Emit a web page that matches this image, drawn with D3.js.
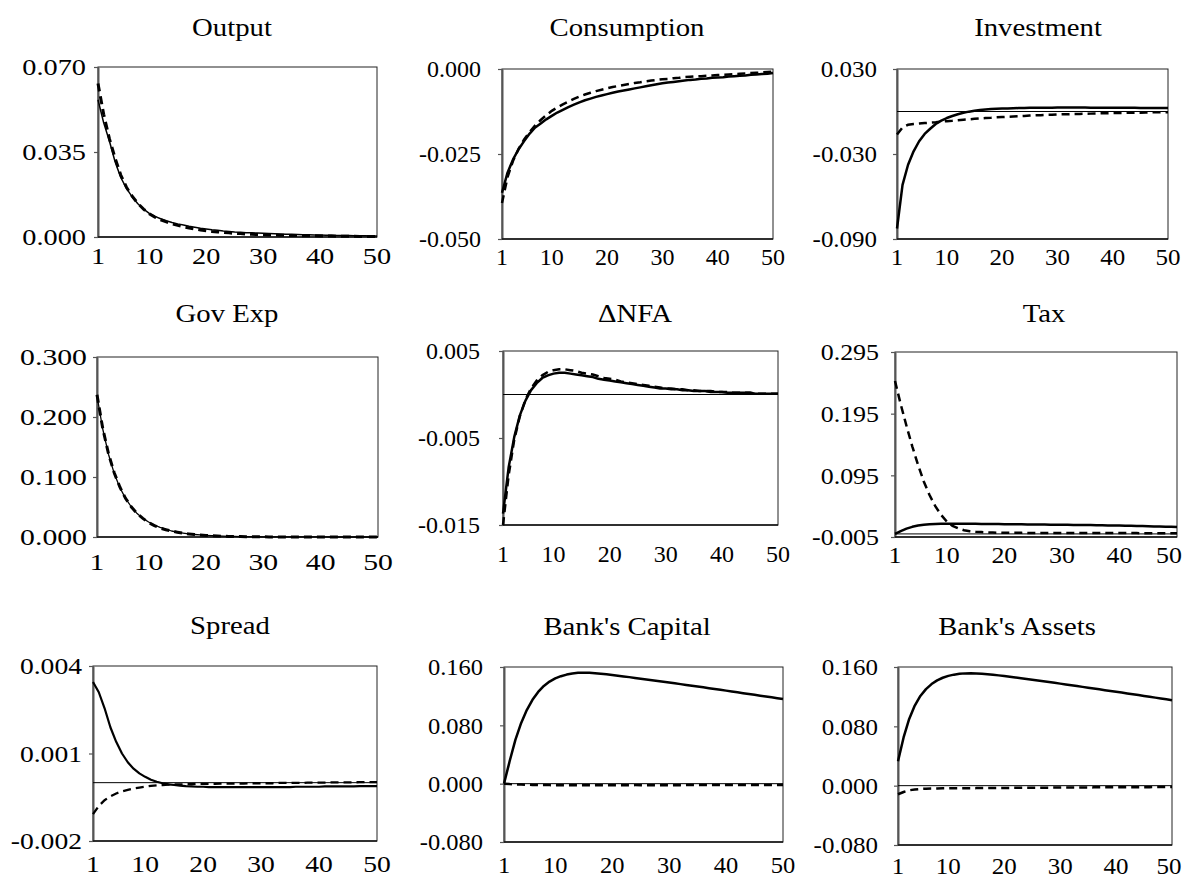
<!DOCTYPE html>
<html>
<head>
<meta charset="utf-8">
<script src="https://cdn.jsdelivr.net/npm/d3@7"></script>
<style>
  html, body { margin: 0; padding: 0; background: #fff; }
  svg { display: block; }
  text { font-family: "Liberation Serif", "Times New Roman", serif; fill: #000; }
</style>
</head>
<body>
<svg id="chart" width="1186" height="882"></svg>
<script>
// Impulse responses over 50 periods: solid = baseline, dashed = alternative.
const periods = d3.range(1, 51);
const xTicks = [1, 10, 20, 30, 40, 50];

const titles = ["Output", "Consumption", "Investment", "Gov Exp", "\u0394NFA", "Tax",
                "Spread", "Bank's Capital", "Bank's Assets"];

const outputSolid = [0.0565,0.0470,0.0395,0.0310,0.0245,0.0200,0.0165,0.0137,0.0115,0.0097,
  0.0085,0.0075,0.0067,0.0060,0.0054,0.0049,0.0044,0.0040,0.0036,0.0033,
  0.0030,0.0028,0.0025,0.0023,0.0021,0.0020,0.0018,0.0017,0.0016,0.0015,
  0.0014,0.0013,0.0012,0.0011,0.0011,0.0010,0.0009,0.0009,0.0008,0.0008,
  0.0007,0.0007,0.0006,0.0006,0.0006,0.0005,0.0005,0.0005,0.0004,0.0004];
const outputDashed = [0.0632,0.0505,0.0405,0.0325,0.0255,0.0205,0.0168,0.0138,0.0115,0.0096,
  0.0082,0.0071,0.0062,0.0054,0.0048,0.0042,0.0037,0.0033,0.0029,0.0026,
  0.0023,0.0021,0.0019,0.0017,0.0015,0.0014,0.0012,0.0011,0.0010,0.0009,
  0.0008,0.0008,0.0007,0.0007,0.0006,0.0006,0.0005,0.0005,0.0005,0.0004,
  0.0004,0.0004,0.0003,0.0003,0.0003,0.0003,0.0002,0.0002,0.0002,0.0002];

const consSolid = [-0.0364,-0.0305,-0.0266,-0.0236,-0.0212,-0.0190,-0.0172,-0.0160,-0.0148,-0.0138,
  -0.0128,-0.0120,-0.0112,-0.0105,-0.0098,-0.0092,-0.0087,-0.0082,-0.0078,-0.0074,
  -0.0070,-0.0066,-0.0063,-0.0060,-0.0057,-0.0054,-0.0051,-0.0048,-0.0045,-0.0042,
  -0.0040,-0.0038,-0.0036,-0.0034,-0.0032,-0.0031,-0.0029,-0.0028,-0.0026,-0.0025,
  -0.0024,-0.0022,-0.0021,-0.0020,-0.0019,-0.0017,-0.0016,-0.0015,-0.0014,-0.0012];
const consDashed = [-0.0394,-0.0318,-0.0270,-0.0235,-0.0207,-0.0185,-0.0166,-0.0150,-0.0136,-0.0123,
  -0.0113,-0.0104,-0.0096,-0.0088,-0.0081,-0.0075,-0.0070,-0.0065,-0.0061,-0.0057,
  -0.0053,-0.0050,-0.0047,-0.0044,-0.0041,-0.0039,-0.0036,-0.0034,-0.0032,-0.0030,
  -0.0029,-0.0027,-0.0026,-0.0024,-0.0023,-0.0022,-0.0021,-0.0020,-0.0019,-0.0018,
  -0.0017,-0.0016,-0.0015,-0.0014,-0.0013,-0.0012,-0.0011,-0.0010,-0.0009,-0.0008];

const invSolid = [-0.0826,-0.0518,-0.0376,-0.0281,-0.0210,-0.0158,-0.0122,-0.0088,-0.0064,-0.0046,
  -0.0032,-0.0019,-0.0009,-0.0001,0.0005,0.0010,0.0014,0.0017,0.0019,0.0021,
  0.0022,0.0023,0.0024,0.0025,0.0026,0.0026,0.0027,0.0027,0.0027,0.0028,
  0.0028,0.0028,0.0028,0.0028,0.0028,0.0027,0.0027,0.0027,0.0027,0.0027,
  0.0026,0.0026,0.0026,0.0026,0.0025,0.0025,0.0025,0.0024,0.0024,0.0024];
const invDashed = [-0.0162,-0.0112,-0.0094,-0.0088,-0.0085,-0.0082,-0.0079,-0.0076,-0.0072,-0.0068,
  -0.0065,-0.0061,-0.0058,-0.0055,-0.0052,-0.0049,-0.0046,-0.0044,-0.0041,-0.0039,
  -0.0037,-0.0035,-0.0033,-0.0031,-0.0029,-0.0027,-0.0026,-0.0024,-0.0023,-0.0021,
  -0.0020,-0.0019,-0.0018,-0.0017,-0.0016,-0.0015,-0.0014,-0.0013,-0.0012,-0.0011,
  -0.0010,-0.0010,-0.0009,-0.0008,-0.0008,-0.0007,-0.0006,-0.0006,-0.0005,-0.0005];

const govSolid = [0.235,0.180,0.138,0.106,0.082,0.064,0.050,0.039,0.031,0.025,
  0.020,0.016,0.013,0.010,0.008,0.0065,0.0052,0.0042,0.0034,0.0027,
  0.0022,0.0018,0.0014,0.0011,0.0009,0.0007,0.0006,0.0005,0.0004,0.0003,
  0.0003,0.0002,0.0002,0.0002,0.0001,0.0001,0.0001,0.0001,0.0001,0.0001,
  0.0001,0.0000,0.0000,0.0000,0.0000,0.0000,0.0000,0.0000,0.0000,0.0000];
const govDashed = [0.237,0.181,0.139,0.107,0.083,0.064,0.050,0.039,0.031,0.024,
  0.019,0.015,0.012,0.010,0.008,0.0062,0.0050,0.0040,0.0032,0.0026,
  0.0021,0.0017,0.0013,0.0010,0.0008,0.0007,0.0005,0.0004,0.0003,0.0003,
  0.0002,0.0002,0.0002,0.0001,0.0001,0.0001,0.0001,0.0001,0.0000,0.0000,
  0.0000,0.0000,0.0000,0.0000,0.0000,0.0000,0.0000,0.0000,0.0000,0.0000];

const nfaSolid = [-0.0137,-0.0084,-0.0049,-0.0024,-0.0007,0.0005,0.0013,0.0019,0.0022,0.0024,
  0.0025,0.0025,0.0024,0.0023,0.0022,0.0021,0.0020,0.0018,0.0017,0.0016,
  0.0015,0.0014,0.0013,0.0012,0.0011,0.0010,0.0009,0.0008,0.0007,0.0007,
  0.0006,0.0006,0.0005,0.0005,0.0004,0.0004,0.0004,0.0003,0.0003,0.0003,
  0.0002,0.0002,0.0002,0.0002,0.0002,0.0001,0.0001,0.0001,0.0001,0.0001];
const nfaDashed = [-0.0150,-0.0093,-0.0052,-0.0025,-0.0006,0.0007,0.0016,0.0022,0.0026,0.0028,
  0.0029,0.0029,0.0028,0.0027,0.0025,0.0024,0.0023,0.0021,0.0019,0.0018,
  0.0017,0.0015,0.0014,0.0013,0.0012,0.0011,0.0010,0.0009,0.0008,0.0007,
  0.0007,0.0006,0.0006,0.0005,0.0005,0.0004,0.0004,0.0004,0.0003,0.0003,
  0.0003,0.0002,0.0002,0.0002,0.0002,0.0001,0.0001,0.0001,0.0001,0.0001];

const taxSolid = [0.0000,0.0045,0.0085,0.0115,0.0135,0.0148,0.0156,0.0161,0.0164,0.0165,
  0.0165,0.0165,0.0164,0.0164,0.0163,0.0162,0.0161,0.0160,0.0159,0.0158,
  0.0157,0.0156,0.0155,0.0154,0.0153,0.0152,0.0151,0.0150,0.0149,0.0148,
  0.0147,0.0146,0.0145,0.0144,0.0143,0.0141,0.0140,0.0138,0.0137,0.0135,
  0.0133,0.0131,0.0129,0.0127,0.0125,0.0122,0.0120,0.0118,0.0115,0.0113];
const taxDashed = [0.248,0.210,0.175,0.142,0.112,0.085,0.063,0.045,0.031,0.020,
  0.013,0.009,0.006,0.0045,0.0035,0.0030,0.0025,0.0022,0.0020,0.0018,
  0.0017,0.0017,0.0017,0.0016,0.0016,0.0016,0.0016,0.0015,0.0015,0.0015,
  0.0015,0.0015,0.0014,0.0014,0.0014,0.0014,0.0014,0.0013,0.0013,0.0013,
  0.0013,0.0013,0.0013,0.0012,0.0012,0.0012,0.0012,0.0012,0.0012,0.0012];

const spreadSolid = [0.00345,0.00310,0.00255,0.00190,0.00140,0.00100,0.00070,0.00048,0.00032,0.00020,
  0.00010,0.00003,-0.00002,-0.00006,-0.00008,-0.00010,-0.00012,-0.00013,-0.00014,-0.00014,
  -0.00015,-0.00015,-0.00015,-0.00015,-0.00015,-0.00015,-0.00015,-0.00015,-0.00015,-0.00015,
  -0.00015,-0.00015,-0.00015,-0.00015,-0.00015,-0.00014,-0.00014,-0.00014,-0.00014,-0.00014,
  -0.00013,-0.00013,-0.00013,-0.00013,-0.00013,-0.00013,-0.00012,-0.00012,-0.00012,-0.00012];
const spreadDashed = [-0.00108,-0.00080,-0.00060,-0.00047,-0.00037,-0.00030,-0.00025,-0.00020,-0.00017,-0.00014,
  -0.00011,-0.00009,-0.00008,-0.00007,-0.00006,-0.00006,-0.00005,-0.00005,-0.00004,-0.00004,
  -0.00004,-0.00004,-0.00003,-0.00003,-0.00003,-0.00003,-0.00003,-0.00002,-0.00002,-0.00002,
  -0.00002,-0.00002,-0.00001,-0.00001,-0.00001,-0.00001,-0.00001,0.00000,0.00000,0.00000,
  0.00000,0.00001,0.00001,0.00001,0.00001,0.00001,0.00002,0.00002,0.00002,0.00002];

const capSolid = [0.0000,0.0310,0.0600,0.0830,0.1010,0.1150,0.1258,0.1340,0.1400,0.1443,
  0.1474,0.1496,0.1511,0.1520,0.1522,0.1520,0.1515,0.1508,0.1500,0.1491,
  0.1481,0.1471,0.1461,0.1450,0.1440,0.1429,0.1419,0.1408,0.1398,0.1387,
  0.1376,0.1365,0.1354,0.1343,0.1332,0.1321,0.1310,0.1298,0.1287,0.1276,
  0.1264,0.1253,0.1241,0.1230,0.1218,0.1207,0.1195,0.1184,0.1172,0.1160];
const capDashed = [0.0000,-0.0006,-0.0010,-0.0013,-0.0015,-0.0017,-0.0018,-0.0019,-0.0020,-0.0021,
  -0.0021,-0.0021,-0.0021,-0.0021,-0.0021,-0.0021,-0.0021,-0.0021,-0.0021,-0.0021,
  -0.0021,-0.0021,-0.0021,-0.0020,-0.0020,-0.0020,-0.0020,-0.0020,-0.0020,-0.0020,
  -0.0020,-0.0020,-0.0019,-0.0019,-0.0019,-0.0019,-0.0019,-0.0019,-0.0019,-0.0019,
  -0.0019,-0.0018,-0.0018,-0.0018,-0.0018,-0.0018,-0.0018,-0.0018,-0.0018,-0.0018];

const assetSolid = [0.0330,0.0650,0.0900,0.1080,0.1210,0.1302,0.1370,0.1420,0.1455,0.1480,
  0.1497,0.1508,0.1514,0.1516,0.1514,0.1509,0.1503,0.1495,0.1487,0.1478,
  0.1468,0.1459,0.1449,0.1439,0.1429,0.1418,0.1408,0.1397,0.1387,0.1376,
  0.1365,0.1354,0.1343,0.1332,0.1321,0.1310,0.1299,0.1288,0.1277,0.1266,
  0.1255,0.1243,0.1232,0.1221,0.1210,0.1198,0.1187,0.1176,0.1164,0.1153];
const assetDashed = [-0.0116,-0.0085,-0.0062,-0.0052,-0.0045,-0.0041,-0.0039,-0.0037,-0.0036,-0.0036,
  -0.0035,-0.0035,-0.0034,-0.0034,-0.0033,-0.0033,-0.0032,-0.0031,-0.0031,-0.0030,
  -0.0030,-0.0029,-0.0029,-0.0028,-0.0028,-0.0028,-0.0027,-0.0027,-0.0026,-0.0026,
  -0.0025,-0.0025,-0.0025,-0.0024,-0.0024,-0.0023,-0.0023,-0.0023,-0.0022,-0.0022,
  -0.0021,-0.0021,-0.0021,-0.0020,-0.0020,-0.0020,-0.0019,-0.0019,-0.0019,-0.0018];

// Value ranges and tick values of each panel's vertical axis
const yDomains = [[0, 0.07], [-0.05, 0], [-0.09, 0.03], [0, 0.3], [-0.015, 0.005],
                  [-0.005, 0.295], [-0.002, 0.004], [-0.08, 0.16], [-0.08, 0.16]];
const yTicks = [[0, 0.035, 0.07], [-0.05, -0.025, 0], [-0.09, -0.03, 0.03],
                [0, 0.1, 0.2, 0.3], [-0.015, -0.005, 0.005], [-0.005, 0.095, 0.195, 0.295],
                [-0.002, 0.001, 0.004], [-0.08, 0, 0.08, 0.16], [-0.08, 0, 0.08, 0.16]];

const solidSeries = [outputSolid, consSolid, invSolid, govSolid, nfaSolid, taxSolid,
                     spreadSolid, capSolid, assetSolid];
const dashedSeries = [outputDashed, consDashed, invDashed, govDashed, nfaDashed, taxDashed,
                      spreadDashed, capDashed, assetDashed];

// Panel geometry: plot box, label anchors, text stretch and stroke widths
const layout = [
  {l: 98,  r: 377,  t: 67,  b: 237, lab: 86,  tx: 232,  ty: 36,  xy: 264, sx: 1.18, sw: 1.5, dw: 3.0},
  {l: 502, r: 773,  t: 69,  b: 239, lab: 481, tx: 627,  ty: 36,  xy: 265, sx: 1.00, sw: 2.5, dw: 2.5},
  {l: 897, r: 1168, t: 69,  b: 239, lab: 877, tx: 1038, ty: 36,  xy: 265, sx: 1.04, sw: 2.5, dw: 2.5},
  {l: 97,  r: 378,  t: 357, b: 537, lab: 87,  tx: 227,  ty: 322, xy: 570, sx: 1.24, sw: 1.3, dw: 3.0},
  {l: 503, r: 778,  t: 351, b: 525, lab: 480, tx: 635,  ty: 322, xy: 562, sx: 1.00, sw: 2.5, dw: 2.5},
  {l: 895, r: 1177, t: 352, b: 537, lab: 879, tx: 1044, ty: 322, xy: 563, sx: 1.08, sw: 2.5, dw: 2.5},
  {l: 93,  r: 377,  t: 666, b: 841, lab: 82,  tx: 230,  ty: 634, xy: 872, sx: 1.15, sw: 2.2, dw: 2.3},
  {l: 504, r: 783,  t: 667, b: 842, lab: 483, tx: 627,  ty: 635, xy: 873, sx: 1.02, sw: 2.5, dw: 2.5},
  {l: 898, r: 1172, t: 667, b: 845, lab: 878, tx: 1017, ty: 635, xy: 874, sx: 1.04, sw: 2.5, dw: 2.5}
];

const fmt = v => d3.format(".3f")(v).replace("\u2212", "-");
const svg = d3.select("#chart");
const maxLabelX = 1169;   // keeps the rightmost period label inside the page

titles.forEach((title, i) => {
  const L = layout[i];
  const x = d3.scaleLinear().domain([1, 50]).range([L.l, L.r]);
  const y = d3.scaleLinear().domain(yDomains[i]).range([L.b, L.t]);
  const g = svg.append("g");

  // plot frame
  g.append("rect")
    .attr("x", L.l).attr("y", L.t)
    .attr("width", L.r - L.l).attr("height", L.b - L.t)
    .attr("fill", "none").attr("stroke", "#222").attr("stroke-width", 1);

  // left axis with outward ticks
  g.append("g")
    .attr("transform", `translate(${L.l},0)`)
    .call(d3.axisLeft(y).tickValues(yTicks[i]).tickSize(4).tickSizeOuter(0).tickFormat(""))
    .call(a => a.select(".domain").attr("stroke", "#555").attr("stroke-width", 2))
    .call(a => a.selectAll(".tick line").attr("stroke", "#555").attr("stroke-width", 1.2));

  // bottom axis line
  g.append("line")
    .attr("x1", L.l).attr("x2", L.r).attr("y1", L.b).attr("y2", L.b)
    .attr("stroke", "#111").attr("stroke-width", 1.5);

  // zero reference line
  const [d0, d1] = yDomains[i];
  if (d0 < 0 && d1 > 0) {
    g.append("line")
      .attr("x1", L.l).attr("x2", L.r).attr("y1", y(0)).attr("y2", y(0))
      .attr("stroke", "#000").attr("stroke-width", 1);
  }

  // y tick labels
  g.selectAll("text.ylab").data(yTicks[i]).join("text")
    .attr("class", "ylab")
    .attr("transform", d => `translate(${L.lab},${y(d)}) scale(${L.sx},1)`)
    .attr("dy", "0.35em")
    .attr("text-anchor", "end")
    .style("font-size", "24px")
    .text(fmt);

  // x tick labels
  g.selectAll("text.xlab").data(xTicks).join("text")
    .attr("class", "xlab")
    .attr("transform", d => `translate(${Math.min(x(d), maxLabelX)},${L.xy}) scale(${L.sx},1)`)
    .attr("text-anchor", "middle")
    .style("font-size", "24px")
    .text(d => d);

  // title
  g.append("text")
    .attr("transform", `translate(${L.tx},${L.ty}) scale(1.15,1)`)
    .attr("text-anchor", "middle")
    .style("font-size", "25px")
    .text(title);

  const line = d3.line().x((d, k) => x(periods[k])).y(d => y(d));

  g.append("path")
    .datum(solidSeries[i])
    .attr("d", line)
    .attr("fill", "none").attr("stroke", "#000")
    .attr("stroke-width", L.sw).attr("stroke-linejoin", "round");

  g.append("path")
    .datum(dashedSeries[i])
    .attr("d", line)
    .attr("fill", "none").attr("stroke", "#000")
    .attr("stroke-width", L.dw).attr("stroke-dasharray", "8,5");
});
</script>
</body>
</html>
